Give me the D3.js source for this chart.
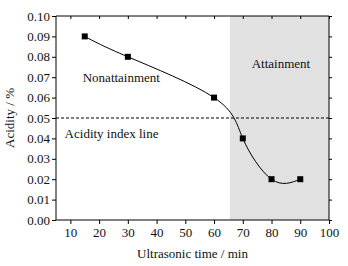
<!DOCTYPE html>
<html>
<head>
<meta charset="utf-8">
<script src="https://cdn.jsdelivr.net/npm/d3@7"></script>
<style>
  body { margin: 0; background: #fff; }
  svg text { font-family: "Liberation Serif", "Times New Roman", serif; fill: #111; }
  .axis path, .axis line { stroke: #000; }
  .axis text { font-size: 13px; }
</style>
</head>
<body>
<svg id="chart" width="348" height="266"></svg>
<script>
// data
const times = [15, 30, 60, 70, 80, 90];
const acidity = [0.09, 0.08, 0.06, 0.04, 0.02, 0.02];
const xTicks = [10, 20, 30, 40, 50, 60, 70, 80, 90, 100];
const yTicks = [0, 0.01, 0.02, 0.03, 0.04, 0.05, 0.06, 0.07, 0.08, 0.09, 0.10];
const indexLine = 0.05;
const attainStart = 65.5;
const notes = [
  { text: "Nonattainment", x: 14.3, y: 0.0676 },
  { text: "Attainment", x: 73.1, y: 0.0745 },
  { text: "Acidity index line", x: 8, y: 0.0402 }
];

const svg = d3.select("#chart");
const margin = { top: 16, right: 19, bottom: 46, left: 56 };
const W = 348, H = 266;
const innerW = W - margin.left - margin.right;
const innerH = H - margin.top - margin.bottom;

const g = svg.append("g").attr("transform", `translate(${margin.left},${margin.top})`);

const x = d3.scaleLinear().domain([5, 100]).range([0, innerW]);
const y = d3.scaleLinear().domain([0, 0.10]).range([innerH, 0]);

// shaded attainment zone
g.append("rect")
  .attr("x", x(attainStart)).attr("y", 0)
  .attr("width", x(100) - x(attainStart)).attr("height", innerH)
  .attr("fill", "#e1e1e1");

// axes
g.append("g").attr("class", "axis").attr("transform", `translate(0,${innerH})`)
  .call(d3.axisBottom(x).tickValues(xTicks).tickSize(4).tickSizeOuter(0).tickPadding(4))
  .call(a => a.select(".domain").attr("d", `M0,0H${innerW}`));
g.append("g").attr("class", "axis")
  .call(d3.axisLeft(y).tickValues(yTicks).tickFormat(d3.format(".2f")).tickSize(4).tickSizeOuter(0).tickPadding(2))
  .call(a => a.select(".domain").attr("d", `M0,0V${innerH}`));
g.append("g").attr("class", "axis")
  .call(d3.axisTop(x).tickValues(xTicks).tickSize(-3).tickSizeOuter(0).tickFormat(""))
  .call(a => a.select(".domain").attr("d", `M0,0H${innerW}`));
g.append("g").attr("class", "axis").attr("transform", `translate(${innerW},0)`)
  .call(d3.axisRight(y).tickValues(yTicks).tickSize(3).tickSizeOuter(0).tickFormat(""))
  .call(a => a.select(".domain").attr("d", `M0,0V${innerH}`));

// axis titles
g.append("text").attr("x", innerW / 2).attr("y", innerH + 38)
  .attr("text-anchor", "middle").style("font-size", "13px")
  .text("Ultrasonic time / min");
g.append("text").attr("transform", "rotate(-90)")
  .attr("x", -innerH / 2).attr("y", -42)
  .attr("text-anchor", "middle").style("font-size", "13px")
  .text("Acidity / %");

// index line
g.append("line")
  .attr("x1", 0).attr("x2", innerW)
  .attr("y1", y(indexLine)).attr("y2", y(indexLine))
  .attr("stroke", "#000").attr("stroke-width", 1)
  .attr("stroke-dasharray", "3,2");

// smooth curve
const pts = times.map((t, i) => [t, acidity[i]]);
g.append("path")
  .datum(pts)
  .attr("fill", "none").attr("stroke", "#000").attr("stroke-width", 1)
  .attr("d", d3.line().x(d => x(d[0])).y(d => y(d[1])).curve(d3.curveNatural));

g.selectAll(".pt").data(pts).enter().append("rect")
  .attr("x", d => x(d[0]) - 3).attr("y", d => y(d[1]) - 3)
  .attr("width", 6).attr("height", 6).attr("fill", "#000");

// annotations
g.selectAll(".note").data(notes).enter().append("text")
  .attr("x", d => x(d.x)).attr("y", d => y(d.y))
  .style("font-size", "13px")
  .text(d => d.text);
</script>
</body>
</html>
